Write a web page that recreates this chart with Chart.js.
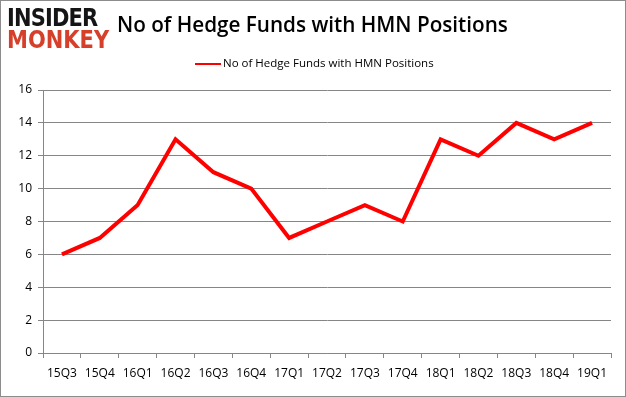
<!DOCTYPE html>
<html>
<head>
<meta charset="utf-8">
<script src="https://cdn.jsdelivr.net/npm/chart.js@4/dist/chart.umd.min.js"></script>
<style>
  body { margin: 0; background: #fff; }
  #wrap { position: relative; width: 626px; height: 397px; box-sizing: border-box; border: 1px solid #8c8c8c; overflow: hidden; }
  #logo { position: absolute; left: 6px; top: 6px; font-family: "DejaVu Sans", sans-serif; font-weight: bold; line-height: 22px; font-size: 25px; transform-origin: 0 0; transform: scaleX(0.84); white-space: nowrap; }
  #logo .a { color: #151515; letter-spacing: -1px; }
  #logo .b { color: #d6402b; }
  #title { position: absolute; left: 116px; top: 9px; font-family: "Open Sans", sans-serif; font-weight: 600; font-size: 20.7px; color: #000; white-space: nowrap; }
  #legend { position: absolute; left: 194px; top: 54px; font-family: "Open Sans", sans-serif; font-size: 11.5px; color: #000; white-space: nowrap; }
  #legend span.l { display: inline-block; width: 26px; height: 2px; background: #ff0000; vertical-align: middle; margin-right: 2px; }
  canvas { position: absolute; left: 0; top: 0; }
</style>
</head>
<body>
<div id="wrap">
  <canvas id="myChart" width="626" height="397"></canvas>
  <div id="logo"><div class="a">INSIDER</div><div class="b">MONKEY</div></div>
  <div id="title">No of Hedge Funds with HMN Positions</div>
  <div id="legend"><span class="l"></span>No of Hedge Funds with HMN Positions</div>
</div>
<script>
// Quartale und Anzahl der Hedgefonds
const quarters = ['15Q3', '15Q4', '16Q1', '16Q2', '16Q3', '16Q4', '17Q1', '17Q2', '17Q3', '17Q4', '18Q1', '18Q2', '18Q3', '18Q4', '19Q1'];
const hedgeFunds = [6, 7, 9, 13, 11, 10, 7, 8, 9, 8, 13, 12, 14, 13, 14];
const yTicks = [0, 2, 4, 6, 8, 10, 12, 14, 16];

const ctx = document.getElementById('myChart').getContext('2d');
new Chart(ctx, {
    type: 'line',
    data: {
        labels: quarters,
        datasets: [{
            label: 'No of Hedge Funds with HMN Positions',
            data: hedgeFunds,
            borderColor: '#ff0000',
            borderWidth: 4,
            pointRadius: 0,
            tension: 0,
            fill: false
        }]
    },
    options: {
        responsive: false,
        animation: false,
        layout: { padding: { top: 89, right: 16, bottom: 0, left: 0 } },
        plugins: {
            legend: { display: false },
            tooltip: { enabled: false }
        },
        scales: {
            x: {
                offset: true,
                grid: { display: true, drawOnChartArea: false, offset: true, tickLength: 5, color: '#868686' },
                border: { color: '#868686' },
                ticks: { color: '#000', font: { family: 'Open Sans', size: 12 }, maxRotation: 0, padding: 8 },
                afterFit: (scale) => { scale.height = 45; }
            },
            y: {
                min: 0,
                max: 16,
                afterBuildTicks: (scale) => { scale.ticks = yTicks.map(v => ({ value: v })); },
                grid: { color: '#868686', tickLength: 5 },
                border: { color: '#868686' },
                ticks: { color: '#000', font: { family: 'Open Sans', size: 12 }, padding: 6 },
                afterFit: (scale) => { scale.width = 42; }
            }
        }
    }
});
</script>
</body>
</html>
